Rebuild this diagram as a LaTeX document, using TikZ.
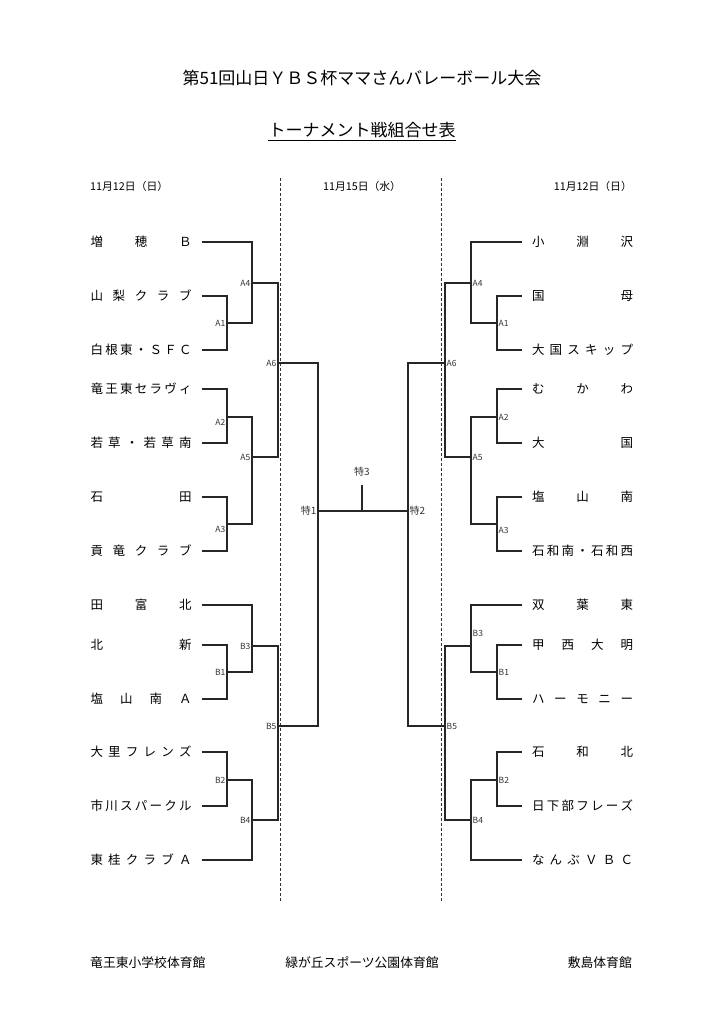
\documentclass[tikz,border=0pt]{standalone}
\usepackage{fontspec}
\setmainfont{Noto Sans CJK JP}
\usetikzlibrary{positioning}

\makeatletter
\newcommand{\spreadname}[1]{\makebox[101pt][s]{\def\sepx{}\@tfor\chx:=#1\do{\sepx\chx\def\sepx{\hfill}}}}
\makeatother

\tikzset{
  team/.style={inner sep=0pt, outer xsep=10pt, font=\fontsize{12.5}{14}\selectfont},
  bracket/.style={line width=1.2pt, draw=black!85, line join=miter},
  matchlab/.style={inner sep=0.5pt, font=\fontsize{8.5}{9.5}\selectfont, text=black!80},
  daylab/.style={inner sep=0pt, font=\fontsize{10.8}{12}\selectfont},
  venue/.style={inner sep=0pt, font=\fontsize{12.8}{15}\selectfont},
  courtline/.style={line width=0.7pt, draw=black!80, dash pattern=on 3pt off 2pt}
}

\begin{document}
\begin{tikzpicture}[x=1pt, y=-1pt]
    \useasboundingbox (0,0) rectangle (724,1024);

    % Title and date headings
    \node[font=\fontsize{17}{19}\selectfont] (title) at (362,78) {第51回山日ＹＢＳ杯ママさんバレーボール大会};
    \node[inner sep=0pt, font=\fontsize{17}{19}\selectfont] (sub) at (362,130) {トーナメント戦組合せ表};
    \draw[line width=0.7pt] ([yshift=-2pt]sub.south west) -- ([yshift=-2pt]sub.south east);

    \node[daylab, anchor=west] (dayL) at (90,186) {11月12日（日）};
    \node[daylab] (dayC) at (362,186) {11月15日（水）};
    \node[daylab, anchor=east] (dayR) at (632,186) {11月12日（日）};

    % Dashed lines between the courts
    \coordinate (cutL top) at (280,178);
    \coordinate (cutL bot) at (280,902);
    \coordinate (cutR top) at (441,178);
    \coordinate (cutR bot) at (441,902);
    \draw[courtline] (cutL top) -- (cutL bot);
    \draw[courtline] (cutR top) -- (cutR bot);

    % Teams on the left
    \node[team] (l1) at (141,242) {\spreadname{増穂Ｂ}};
    \node[team] (l2) at (141,296) {\spreadname{山梨クラブ}};
    \node[team] (l3) at (141,350) {\spreadname{白根東・ＳＦＣ}};
    \node[team] (l4) at (141,389) {\spreadname{竜王東セラヴィ}};
    \node[team] (l5) at (141,443) {\spreadname{若草・若草南}};
    \node[team] (l6) at (141,497) {\spreadname{石田}};
    \node[team] (l7) at (141,551) {\spreadname{貢竜クラブ}};
    \node[team] (l8) at (141,605) {\spreadname{田富北}};
    \node[team] (l9) at (141,645) {\spreadname{北新}};
    \node[team] (l10) at (141,699) {\spreadname{塩山南Ａ}};
    \node[team] (l11) at (141,752) {\spreadname{大里フレンズ}};
    \node[team] (l12) at (141,806) {\spreadname{市川スパークル}};
    \node[team] (l13) at (141,860) {\spreadname{東桂クラブＡ}};

    % Teams on the right
    \node[team] (r1) at (582.5,242) {\spreadname{小淵沢}};
    \node[team] (r2) at (582.5,296) {\spreadname{国母}};
    \node[team] (r3) at (582.5,350) {\spreadname{大国スキップ}};
    \node[team] (r4) at (582.5,389) {\spreadname{むかわ}};
    \node[team] (r5) at (582.5,443) {\spreadname{大国}};
    \node[team] (r6) at (582.5,497) {\spreadname{塩山南}};
    \node[team] (r7) at (582.5,551) {\spreadname{石和南・石和西}};
    \node[team] (r8) at (582.5,605) {\spreadname{双葉東}};
    \node[team] (r9) at (582.5,645) {\spreadname{甲西大明}};
    \node[team] (r10) at (582.5,699) {\spreadname{ハーモニー}};
    \node[team] (r11) at (582.5,752) {\spreadname{石和北}};
    \node[team] (r12) at (582.5,806) {\spreadname{日下部フレーズ}};
    \node[team] (r13) at (582.5,860) {\spreadname{なんぶＶＢＣ}};

    % Match points
    \coordinate (lA1) at (227,323);
    \coordinate (lA2) at (227,417);
    \coordinate (lA3) at (227,524);
    \coordinate (lA4) at (252,283);
    \coordinate (lA5) at (252,457);
    \coordinate (lA6) at (278,363);
    \coordinate (lB1) at (227,672);
    \coordinate (lB2) at (227,780);
    \coordinate (lB3) at (252,646);
    \coordinate (lB4) at (252,820);
    \coordinate (lB5) at (278,726);
    \coordinate (rA1) at (497,323);
    \coordinate (rA2) at (497,417);
    \coordinate (rA3) at (497,524);
    \coordinate (rA4) at (471,283);
    \coordinate (rA5) at (471,457);
    \coordinate (rA6) at (445,363);
    \coordinate (rB1) at (497,672);
    \coordinate (rB2) at (497,780);
    \coordinate (rB3) at (471,646);
    \coordinate (rB4) at (471,820);
    \coordinate (rB5) at (445,726);
    \coordinate (T1) at (318,511);
    \coordinate (T2) at (408,511);
    \coordinate (T3) at (362,485);

    % Draw the left bracket
    \draw[bracket] (l2.east) -| (lA1);
    \draw[bracket] (l3.east) -| (lA1);
    \draw[bracket] (l1.east) -| (lA4);
    \draw[bracket] (lA1) -| (lA4);
    \draw[bracket] (l4.east) -| (lA2);
    \draw[bracket] (l5.east) -| (lA2);
    \draw[bracket] (l6.east) -| (lA3);
    \draw[bracket] (l7.east) -| (lA3);
    \draw[bracket] (lA2) -| (lA5);
    \draw[bracket] (lA3) -| (lA5);
    \draw[bracket] (lA4) -| (lA6);
    \draw[bracket] (lA5) -| (lA6);
    \draw[bracket] (lA6) -| (T1);
    \draw[bracket] (l9.east) -| (lB1);
    \draw[bracket] (l10.east) -| (lB1);
    \draw[bracket] (l8.east) -| (lB3);
    \draw[bracket] (lB1) -| (lB3);
    \draw[bracket] (l11.east) -| (lB2);
    \draw[bracket] (l12.east) -| (lB2);
    \draw[bracket] (l13.east) -| (lB4);
    \draw[bracket] (lB2) -| (lB4);
    \draw[bracket] (lB3) -| (lB5);
    \draw[bracket] (lB4) -| (lB5);
    \draw[bracket] (lB5) -| (T1);

    % Draw the right bracket
    \draw[bracket] (r2.west) -| (rA1);
    \draw[bracket] (r3.west) -| (rA1);
    \draw[bracket] (r1.west) -| (rA4);
    \draw[bracket] (rA1) -| (rA4);
    \draw[bracket] (r4.west) -| (rA2);
    \draw[bracket] (r5.west) -| (rA2);
    \draw[bracket] (r6.west) -| (rA3);
    \draw[bracket] (r7.west) -| (rA3);
    \draw[bracket] (rA2) -| (rA5);
    \draw[bracket] (rA3) -| (rA5);
    \draw[bracket] (rA4) -| (rA6);
    \draw[bracket] (rA5) -| (rA6);
    \draw[bracket] (rA6) -| (T2);
    \draw[bracket] (r9.west) -| (rB1);
    \draw[bracket] (r10.west) -| (rB1);
    \draw[bracket] (r8.west) -| (rB3);
    \draw[bracket] (rB1) -| (rB3);
    \draw[bracket] (r11.west) -| (rB2);
    \draw[bracket] (r12.west) -| (rB2);
    \draw[bracket] (r13.west) -| (rB4);
    \draw[bracket] (rB2) -| (rB4);
    \draw[bracket] (rB3) -| (rB5);
    \draw[bracket] (rB4) -| (rB5);
    \draw[bracket] (rB5) -| (T2);

    % Final
    \draw[bracket] (T1) -- (T2);
    \draw[bracket] (T3) -- (T3 |- T1);

    % Label the matches
    \node[matchlab, left=1pt of lA1] (lA1 txt) {A1};
    \node[matchlab, below left=2pt and 1pt of lA2] (lA2 txt) {A2};
    \node[matchlab, below left=2pt and 1pt of lA3] (lA3 txt) {A3};
    \node[matchlab, left=1pt of lA4] (lA4 txt) {A4};
    \node[matchlab, left=1pt of lA5] (lA5 txt) {A5};
    \node[matchlab, left=1pt of lA6] (lA6 txt) {A6};
    \node[matchlab, left=1pt of lB1] (lB1 txt) {B1};
    \node[matchlab, left=1pt of lB2] (lB2 txt) {B2};
    \node[matchlab, left=1pt of lB3] (lB3 txt) {B3};
    \node[matchlab, left=1pt of lB4] (lB4 txt) {B4};
    \node[matchlab, left=1pt of lB5] (lB5 txt) {B5};
    \node[matchlab, right=1pt of rA1] (rA1 txt) {A1};
    \node[matchlab, right=1pt of rA2] (rA2 txt) {A2};
    \node[matchlab, below right=3pt and 1pt of rA3] (rA3 txt) {A3};
    \node[matchlab, right=1pt of rA4] (rA4 txt) {A4};
    \node[matchlab, right=1pt of rA5] (rA5 txt) {A5};
    \node[matchlab, right=1pt of rA6] (rA6 txt) {A6};
    \node[matchlab, right=1pt of rB1] (rB1 txt) {B1};
    \node[matchlab, right=1pt of rB2] (rB2 txt) {B2};
    \node[matchlab, above right=9pt and 1pt of rB3] (rB3 txt) {B3};
    \node[matchlab, right=1pt of rB4] (rB4 txt) {B4};
    \node[matchlab, right=1pt of rB5] (rB5 txt) {B5};
    \node[matchlab, font=\fontsize{10}{11}\selectfont, left=1pt of T1] (T1 txt) {特1};
    \node[matchlab, font=\fontsize{10}{11}\selectfont, right=1pt of T2] (T2 txt) {特2};
    \node[matchlab, font=\fontsize{10}{11}\selectfont, above=8pt of T3] (T3 txt) {特3};

    % Venues
    \node[venue, anchor=west] (venL) at (90,963) {竜王東小学校体育館};
    \node[venue] (venC) at (362,963) {緑が丘スポーツ公園体育館};
    \node[venue, anchor=east] (venR) at (632,963) {敷島体育館};
\end{tikzpicture}
\end{document}
